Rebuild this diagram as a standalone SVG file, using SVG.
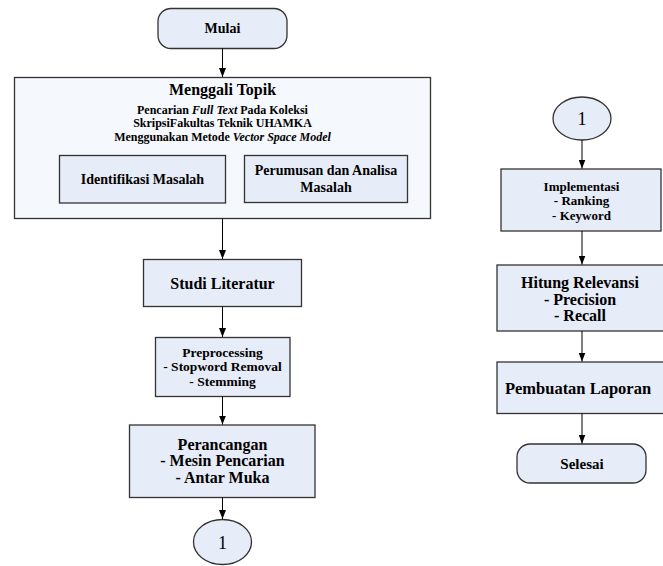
<svg xmlns="http://www.w3.org/2000/svg" width="663" height="566" viewBox="0 0 663 566">
  <defs>
    <marker id="arr" markerUnits="userSpaceOnUse" markerWidth="9" markerHeight="7" refX="9" refY="3.5" orient="auto">
      <path d="M0,0 L9,3.5 L0,7 z" fill="#000"/>
    </marker>
    <style>
      .box { fill: #E6ECF8; stroke: #333; stroke-width: 1.3; }
      .outer { fill: #F5F8FC; stroke: #333; stroke-width: 1.3; }
      .t { font-family: "Liberation Serif", "Times New Roman", serif; font-weight: bold; fill: #000; text-anchor: middle; }
      .num { font-family: "Liberation Serif", "Times New Roman", serif; font-weight: normal; fill: #000; text-anchor: middle; font-size: 18px; }
      .conn line { stroke: #000; stroke-width: 1; marker-end: url(#arr); }
      .it { font-style: italic; }
    </style>
  </defs>
  <rect width="663" height="566" fill="#fff"/>

  <g id="mulai">
    <rect class="box" x="158" y="8.5" width="129" height="40" rx="13" ry="13"/>
    <text class="t" x="222.5" y="33" font-size="14">Mulai</text>
  </g>

  <g id="menggali-topik">
    <rect class="outer" x="14.5" y="77.5" width="416" height="141"/>
    <text class="t" x="222.5" y="95" font-size="16">Menggali Topik</text>
    <text class="t" x="222.5" y="114" font-size="12">Pencarian <tspan class="it">Full Text</tspan> Pada Koleksi</text>
    <text class="t" x="222.5" y="127.3" font-size="12">SkripsiFakultas Teknik UHAMKA</text>
    <text class="t" x="222.5" y="140.6" font-size="12">Menggunakan Metode <tspan class="it">Vector Space Model</tspan></text>
  </g>

  <g id="identifikasi-masalah">
    <rect class="box" x="59.5" y="155.5" width="166" height="47.5"/>
    <text class="t" x="142.5" y="184" font-size="14">Identifikasi Masalah</text>
  </g>

  <g id="perumusan">
    <rect class="box" x="244.5" y="155.5" width="163" height="47"/>
    <text class="t" x="326" y="175" font-size="14">Perumusan dan Analisa</text>
    <text class="t" x="326" y="192" font-size="14">Masalah</text>
  </g>

  <g id="studi-literatur">
    <rect class="box" x="143.5" y="259.5" width="158" height="47"/>
    <text class="t" x="222.5" y="288.5" font-size="16">Studi Literatur</text>
  </g>

  <g id="preprocessing">
    <rect class="box" x="155.5" y="337.5" width="134.5" height="59"/>
    <text class="t" x="222.5" y="357" font-size="13.5">Preprocessing</text>
    <text class="t" x="222.5" y="371.3" font-size="13.5">- Stopword Removal</text>
    <text class="t" x="222.5" y="385.6" font-size="13.5">- Stemming</text>
  </g>

  <g id="perancangan">
    <rect class="box" x="129.5" y="425" width="185.5" height="72.5"/>
    <text class="t" x="222.5" y="449.5" font-size="16">Perancangan</text>
    <text class="t" x="222.5" y="466.2" font-size="16">- Mesin Pencarian</text>
    <text class="t" x="222.5" y="482.9" font-size="16">- Antar Muka</text>
  </g>

  <g id="konektor-1-bawah">
    <ellipse class="box" cx="222.5" cy="542" rx="29" ry="22.5"/>
    <text class="num" x="222.5" y="549">1</text>
  </g>

  <g id="konektor-1-atas">
    <ellipse class="box" cx="582" cy="118.5" rx="29" ry="21.5"/>
    <text class="num" x="582" y="125">1</text>
  </g>

  <g id="implementasi">
    <rect class="box" x="501" y="169" width="160" height="62"/>
    <text class="t" x="581.5" y="190.5" font-size="13">Implementasi</text>
    <text class="t" x="581.5" y="205" font-size="13">- Ranking</text>
    <text class="t" x="581.5" y="219.5" font-size="13">- Keyword</text>
  </g>

  <g id="hitung-relevansi">
    <rect class="box" x="497" y="265" width="170" height="66"/>
    <text class="t" x="580" y="288" font-size="16">Hitung Relevansi</text>
    <text class="t" x="580" y="304.5" font-size="16">- Precision</text>
    <text class="t" x="580" y="321" font-size="16">- Recall</text>
  </g>

  <g id="pembuatan-laporan">
    <rect class="box" x="497" y="362" width="170" height="51.5"/>
    <text class="t" x="578" y="393.5" font-size="16.5">Pembuatan Laporan</text>
  </g>

  <g id="selesai">
    <rect class="box" x="517" y="444" width="129" height="39" rx="13" ry="13"/>
    <text class="t" x="582" y="468.5" font-size="15">Selesai</text>
  </g>

  <g id="connectors" class="conn">
    <line x1="222.5" y1="48.5" x2="222.5" y2="77"/>
    <line x1="222.5" y1="218.5" x2="222.5" y2="259"/>
    <line x1="222.5" y1="306.5" x2="222.5" y2="337"/>
    <line x1="222.5" y1="396.5" x2="222.5" y2="424.5"/>
    <line x1="222.5" y1="497.5" x2="222.5" y2="519"/>
    <line x1="582" y1="140" x2="582" y2="168.5"/>
    <line x1="582" y1="231" x2="582" y2="264.5"/>
    <line x1="582" y1="331" x2="582" y2="361.5"/>
    <line x1="582" y1="413.5" x2="582" y2="443.5"/>
  </g>
</svg>
